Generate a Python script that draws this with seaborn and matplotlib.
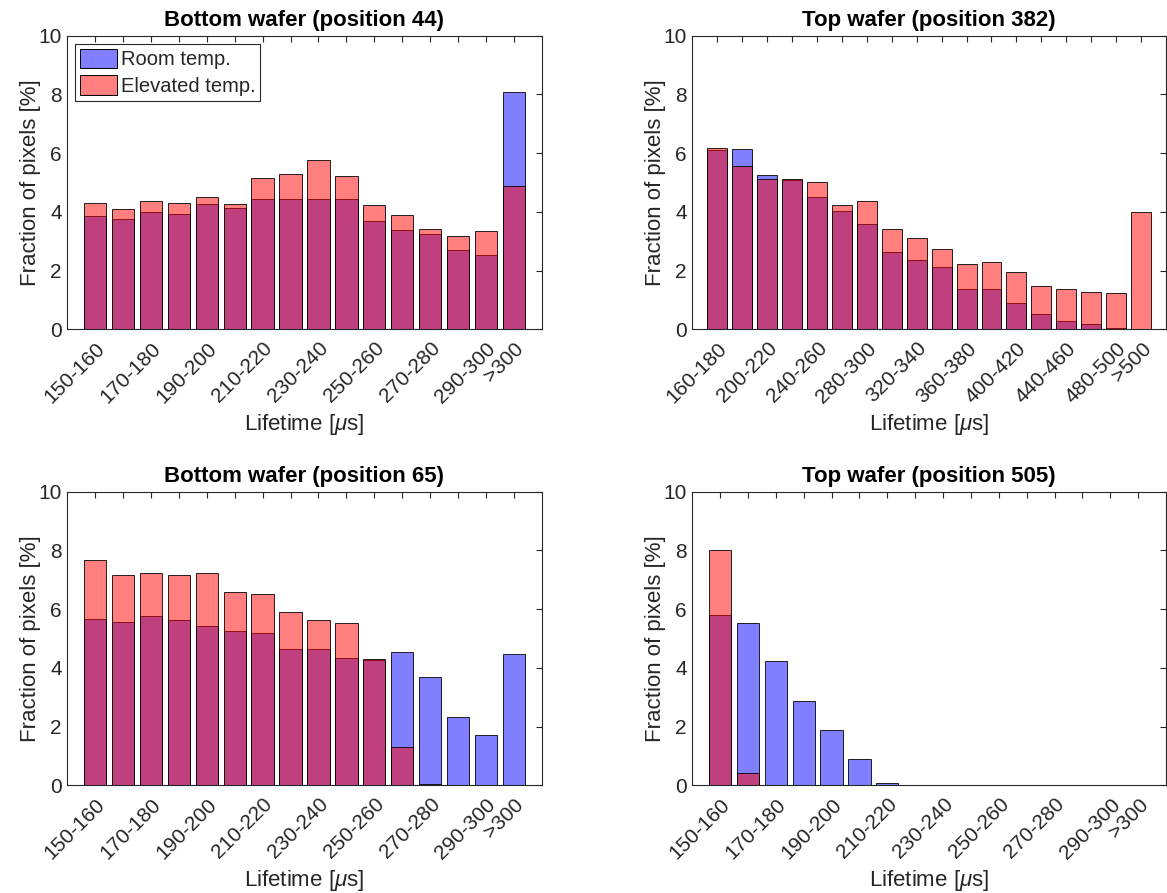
import matplotlib
matplotlib.use("Agg")
import matplotlib.pyplot as plt
import numpy as np
import pandas as pd
import seaborn as sns
from matplotlib.patches import Patch
from matplotlib.transforms import ScaledTranslation, blended_transform_factory

# Lifetime bins
bins_10us = ["150-160", "160-170", "170-180", "180-190", "190-200", "200-210",
             "210-220", "220-230", "230-240", "240-250", "250-260", "260-270",
             "270-280", "280-290", "290-300", ">300"]
bins_20us = ["160-180", "180-200", "200-220", "220-240", "240-260", "260-280",
             "280-300", "300-320", "320-340", "340-360", "360-380", "380-400",
             "400-420", "420-440", "440-460", "460-480", "480-500", ">500"]

# Fraction of pixels [%] per bin
room_44 = [3.87, 3.75, 4.01, 3.93, 4.27, 4.12, 4.45, 4.43, 4.45, 4.43,
           3.70, 3.38, 3.23, 2.71, 2.52, 8.09]
elev_44 = [4.31, 4.11, 4.37, 4.31, 4.49, 4.27, 5.15, 5.28, 5.78, 5.23,
           4.22, 3.90, 3.41, 3.17, 3.34, 4.87]

room_382 = [6.10, 6.14, 5.26, 5.10, 4.49, 4.04, 3.58, 2.62, 2.35, 2.11,
            1.38, 1.36, 0.89, 0.52, 0.28, 0.17, 0.05, 0.00]
elev_382 = [6.16, 5.55, 5.12, 5.12, 5.02, 4.25, 4.37, 3.41, 3.10, 2.75,
            2.24, 2.28, 1.94, 1.48, 1.38, 1.27, 1.23, 4.00]

room_65 = [5.67, 5.56, 5.76, 5.64, 5.44, 5.26, 5.19, 4.65, 4.64, 4.33,
           4.28, 4.53, 3.69, 2.31, 1.71, 4.48]
elev_65 = [7.66, 7.16, 7.22, 7.16, 7.22, 6.58, 6.51, 5.90, 5.62, 5.52,
           4.31, 1.30, 0.05, 0.00, 0.00, 0.00]

room_505 = [5.80, 5.54, 4.24, 2.87, 1.90, 0.91, 0.09, 0.0, 0.0, 0.0,
            0.0, 0.0, 0.0, 0.0, 0.0, 0.0]
elev_505 = [8.02, 0.41, 0.0, 0.0, 0.0, 0.0, 0.0, 0.0, 0.0, 0.0,
            0.0, 0.0, 0.0, 0.0, 0.0, 0.0]

sns.set_style("white")
plt.rcParams["font.family"] = ["Liberation Sans", "DejaVu Sans"]
plt.rcParams["mathtext.fontset"] = "custom"
plt.rcParams["mathtext.rm"] = "Liberation Sans"
plt.rcParams["mathtext.it"] = "Liberation Sans:italic"

INK = (0.15, 0.15, 0.15)
BLUE = (0.0, 0.0, 1.0)
RED = (1.0, 0.0, 0.0)
ALPHA = 0.5

fig = plt.figure(figsize=(11.67, 8.93), dpi=100)
W, H = 1167.0, 893.0


def make_axes(left, top, right, bottom):
    return fig.add_axes([left / W, 1 - bottom / H, (right - left) / W, (bottom - top) / H])


def panel(ax, cats, room, elev, title):
    df = pd.DataFrame({"bin": cats, "room": room, "elev": elev})
    sns.barplot(data=df, x="bin", y="room", ax=ax, color=BLUE, saturation=1,
                width=0.8, edgecolor="black", linewidth=0.7, errorbar=None)
    n_room = len(ax.patches)
    sns.barplot(data=df, x="bin", y="elev", ax=ax, color=RED, saturation=1,
                width=0.8, edgecolor="black", linewidth=0.7, errorbar=None)
    for i, p in enumerate(ax.patches):
        base = BLUE if i < n_room else RED
        p.set_facecolor((*base, ALPHA))
        p.set_edgecolor((0, 0, 0, 0.85))

    n = len(cats)
    ax.set_xlim(-1, n)
    ax.set_ylim(0, 10)
    ax.set_yticks(np.arange(0, 11, 2))
    ax.set_xticks(np.arange(n))
    ax.set_xticklabels([])

    # rotated bin labels on every other tick plus the open-ended last bin
    tick_tf = (blended_transform_factory(ax.transData, ax.transAxes)
               + ScaledTranslation(7 / 100, -16 / 100, fig.dpi_scale_trans))
    for i, c in enumerate(cats):
        if i % 2 == 0 or i == n - 1:
            ax.text(i, 0, c, transform=tick_tf, rotation=45, ha="right",
                    va="center", rotation_mode="anchor", fontsize=15, color=INK)

    ax.tick_params(axis="both", which="both", direction="in", top=True, right=True,
                   length=4.5, width=0.8, color=INK, labelcolor=INK, labelsize=15,
                   pad=4)
    for s in ax.spines.values():
        s.set_color(INK)
        s.set_linewidth(0.8)
        s.set_visible(True)
    ax.set_xlabel(r"Lifetime [$\mu$s]", fontsize=16, color=INK)
    ax.xaxis.set_label_coords(0.5, -0.282)
    ax.set_ylabel("Fraction of pixels [%]", fontsize=16, color=INK, labelpad=-2)
    ax.set_title(title, fontsize=16, fontweight="bold", color="black", pad=7)
    ax.grid(False)


ax_tl = make_axes(67.3, 35.7, 541.7, 329.3)
ax_tr = make_axes(692.3, 35.7, 1166.0, 329.3)
ax_bl = make_axes(67.3, 491.7, 541.7, 785.3)
ax_br = make_axes(692.3, 491.7, 1166.0, 785.3)

panel(ax_tl, bins_10us, room_44, elev_44, "Bottom wafer (position 44)")
panel(ax_tr, bins_20us, room_382, elev_382, "Top wafer (position 382)")
panel(ax_bl, bins_10us, room_65, elev_65, "Bottom wafer (position 65)")
panel(ax_br, bins_10us, room_505, elev_505, "Top wafer (position 505)")

handles = [Patch(facecolor=(*BLUE, ALPHA), edgecolor="black", linewidth=0.7),
           Patch(facecolor=(*RED, ALPHA), edgecolor="black", linewidth=0.7)]
leg = ax_tl.legend(handles, ["Room temp.", "Elevated temp."], loc="upper left",
                   fontsize=14.5, frameon=True, fancybox=False, framealpha=1,
                   edgecolor=INK, borderpad=0.25, borderaxespad=0.4,
                   handlelength=1.8, handleheight=1.1, handletextpad=0.2,
                   labelspacing=0.3)
leg.get_frame().set_linewidth(0.8)
for t in leg.get_texts():
    t.set_color(INK)

fig.savefig("out.png", dpi=100)
